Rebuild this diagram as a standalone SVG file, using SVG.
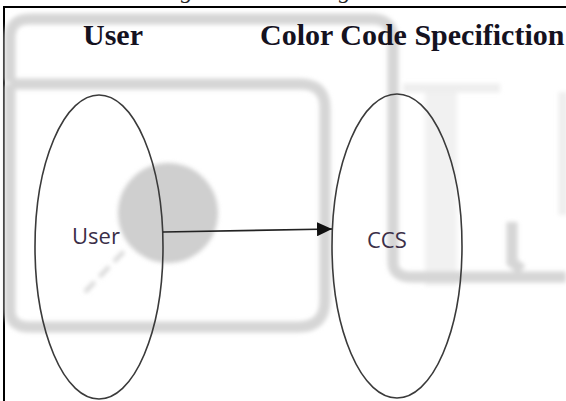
<svg xmlns="http://www.w3.org/2000/svg" width="566" height="401" viewBox="0 0 566 401">
  <style>
    .title { font-family: "Liberation Serif", "Times New Roman", serif; font-weight: bold; font-size: 30px; fill: #15121f; }
    .cap { font-family: "Liberation Serif", "Times New Roman", serif; font-style: italic; font-size: 24px; fill: #222; }
    .label { font-family: "Open Sans", "Noto Sans", sans-serif; font-size: 22px; fill: #3b2f48; }
    .node { fill: none; stroke: #3a3a3a; stroke-width: 1.6; }
    .edge { fill: none; stroke: #222; stroke-width: 1.6; }
    .frame { fill: none; stroke: #000; stroke-width: 2; }
    .band { fill: none; stroke: #d6d6d6; stroke-width: 11; }
    .band-light { fill: none; stroke: #eeeeee; stroke-width: 9; }
  </style>
  <defs>
    <filter id="soft" x="-5%" y="-5%" width="110%" height="110%">
      <feGaussianBlur stdDeviation="2.2"/>
    </filter>
    <marker id="arrow" markerUnits="userSpaceOnUse" markerWidth="15" markerHeight="14" refX="15" refY="7" orient="auto">
      <path d="M0,0 L15,7 L0,14 Z" fill="#111"/>
    </marker>
  </defs>

  <rect width="566" height="401" fill="#fff"/>

  <!-- caption descenders cut by the top edge -->
  <text class="cap" x="181" y="-2">g</text>
  <text class="cap" x="339" y="-2">g</text>

  <!-- frame -->
  <path class="frame" d="M4,401 V7 H566"/>

  <!-- background mark -->
  <g id="backdrop" filter="url(#soft)">
    <rect x="425" y="86" width="32" height="200" fill="#f1f1f1"/>
    <path class="band-light" d="M403,88 H500"/>
    <path class="band-light" d="M563,92 V215" stroke-width="4"/>
    <path class="band" d="M10,82 V38 Q10,19 30,19 H372 Q393,19 393,40 V262 Q393,277 412,277 H566"/>
    <path class="band" d="M512,222 V262 L522,270"/>
    <path class="band" d="M10,84 H300 Q325,84 325,108 V300 Q325,327 298,327 H30 Q10,327 10,310 V84"/>
    <circle cx="168" cy="213" r="50" fill="#cfcfcf"/>
    <path d="M85,292 L128,247" stroke="#d6d6d6" stroke-width="4" stroke-dasharray="14 7"/>
  </g>

  <!-- headings -->
  <text class="title" x="83" y="45">User</text>
  <text class="title" x="260" y="45">Color Code Specifiction</text>

  <!-- nodes -->
  <g id="user">
    <ellipse class="node" cx="99" cy="247" rx="64" ry="152"/>
    <text class="label" x="72" y="244">User</text>
  </g>
  <g id="ccs">
    <ellipse class="node" cx="397" cy="246" rx="65" ry="152"/>
    <text class="label" x="367" y="248">CCS</text>
  </g>

  <!-- connectors -->
  <g id="connectors">
    <line class="edge" x1="163" y1="232" x2="332" y2="229" marker-end="url(#arrow)"/>
  </g>
</svg>
